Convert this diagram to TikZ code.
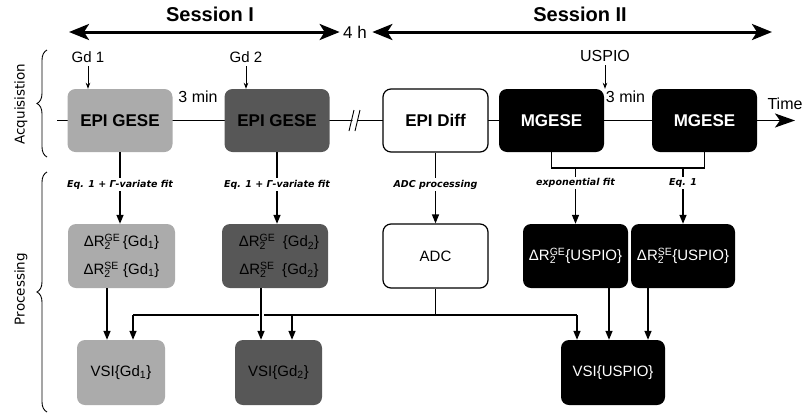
\documentclass[tikz,border=0pt]{standalone}
\usepackage{fontspec}
\setmainfont{Liberation Sans}
\newfontfamily\dejavu{DejaVu Sans}
\usetikzlibrary{arrows.meta,decorations.pathreplacing}
\definecolor{lightbox}{gray}{0.67}
\definecolor{darkbox}{gray}{0.34}
\newcommand{\dRtwo}[1]{ΔR\rlap{\textsubscript{2}}\textsuperscript{#1}}
\tikzset{
  stage/.style={rounded corners=8pt,minimum width=105pt,minimum height=63pt,
    inner sep=0pt,font=\bfseries\fontsize{17}{20}\selectfont},
  result/.style={rounded corners=8pt,minimum width=105pt,minimum height=64pt,
    inner sep=0pt,align=center,font=\fontsize{15}{28}\selectfont},
  note/.style={fill=white,inner sep=1.5pt,font=\dejavu\bfseries\itshape\fontsize{9.5}{11}\selectfont},
  side/.style={rotate=90,font=\dejavu\fontsize{13.5}{15}\selectfont},
  sess/.style={font=\bfseries\fontsize{20}{24}\selectfont},
  plain/.style={font=\fontsize{16}{18}\selectfont},
  proc/.style={line width=1.4pt},
  inj/.style={line width=0.8pt,-{Stealth[length=6pt,width=4.5pt]}},
  bigtip/.style={line width=3pt},
}
\begin{document}
\begin{tikzpicture}[x=1pt,y=-1pt,>={Triangle[length=9pt,width=7pt]}]
    \useasboundingbox (0,0) rectangle (805,413);
    % time axis
    \coordinate (t0) at (57,120.5);
    \coordinate (t1) at (795,120.5);
    \draw[line width=1.6pt,-{Stealth[length=20pt,width=14pt,inset=5pt]}] (t0) -- (t1);
    \node[plain] (time) at (785,104) {Time};
    % sessions
    \node[sess] (ses1) at (210,14) {Session I};
    \node[sess] (ses2) at (580,14) {Session II};
    \node[font=\fontsize{17}{19}\selectfont] (gap) at (355,32) {4 h};
    \coordinate (s1) at (69,32);
    \coordinate (s2) at (772,32);
    \draw[bigtip,{Stealth[length=20pt,width=16pt,inset=5pt]}-{Stealth[length=20pt,width=16pt,inset=5pt]}]
        (s1) -- (gap.west);
    \draw[bigtip,{Stealth[length=20pt,width=16pt,inset=5pt]}-{Stealth[length=20pt,width=16pt,inset=5pt]}]
        ([xshift=2pt]gap.east) -- (s2);
    % break in the time axis
    \fill[white] (350.5,127) -- (355.5,127) -- (359.5,114) -- (354.5,114) -- cycle;
    \draw[line width=0.9pt] (349,131) -- (354,110) (355,131) -- (360,110);
    % acquisition
    \node[stage,fill=lightbox] (gese1) at (120,120.5) {EPI GESE};
    \node[stage,fill=darkbox] (gese2) at (277,120.5) {EPI GESE};
    \node[stage,draw,line width=1.2pt,fill=white] (diff) at (435.5,120.5) {EPI Diff};
    \node[stage,fill=black,text=white] (mgese1) at (551.5,120.5) {MGESE};
    \node[stage,fill=black,text=white] (mgese2) at (704.5,120.5) {MGESE};
    \node[font=\fontsize{15}{17}\selectfont] (gd1) at (88,57) {Gd 1};
    \node[font=\fontsize{15}{17}\selectfont] (gd2) at (246,57) {Gd 2};
    \node[plain] (uspio) at (605,56) {USPIO};
    \draw[inj] (gd1) -- (gd1 |- gese1.north);
    \draw[inj] (gd2) -- (gd2 |- gese2.north);
    \draw[inj] (uspio) -- (uspio |- mgese1.north);
    \node[plain] (min1) at (198,97) {3 min};
    \node[plain] (min2) at (625.5,97) {3 min};
    % processing
    \node[result,fill=lightbox,minimum width=107pt] (dr1) at (121.5,256)
        {\dRtwo{GE}\,\{Gd\textsubscript{1}\}\\\dRtwo{SE} \{Gd\textsubscript{1}\}};
    \node[result,fill=darkbox,minimum width=106pt] (dr2) at (275,256)
        {\hspace{8pt}\dRtwo{GE}\enspace\{Gd\textsubscript{2}\}\\\hspace{8pt}\dRtwo{SE}\enspace\{Gd\textsubscript{2}\}};
    \node[result,draw,line width=1.2pt,fill=white] (adc) at (435.5,256) {ADC};
    \node[result,fill=black,text=white] (drge) at (575.5,256) {\dRtwo{GE}\{USPIO\}};
    \node[result,fill=black,text=white,minimum width=104pt] (drse) at (683,256) {\dRtwo{SE}\{USPIO\}};
    \node[result,fill=lightbox,minimum width=88pt,minimum height=65pt] (vsi1) at (121,372.5) {VSI\{Gd\textsubscript{1}\}};
    \node[result,fill=darkbox,minimum width=87pt,minimum height=65pt] (vsi2) at (278.5,372.5) {VSI\{Gd\textsubscript{2}\}};
    \node[result,fill=black,text=white,minimum width=104pt,minimum height=65pt] (vsiu) at (613,372.5) {VSI\{USPIO\}};
    \draw[proc,->] (gese1.south) -- node[note,pos=0.45]{Eq. 1 + Γ-variate fit} (gese1.south |- dr1.north);
    \draw[proc,->] (gese2.south) -- node[note,pos=0.45]{Eq. 1 + Γ-variate fit} (gese2.south |- dr2.north);
    \draw[proc,->] (diff.south) -- node[note,pos=0.45]{ADC processing} (adc.north);
    \coordinate (fork) at (0,168);
    \draw[proc] (mgese1.south) -- (mgese1.south |- fork) -| (mgese2.south);
    \draw[proc,->] (drge.north |- fork) -- node[note,pos=0.27]{exponential fit} (drge.north);
    \draw[proc,->] (drse.north |- fork) -- node[note,pos=0.27]{Eq. 1} (drse.north);
    % ADC feeds every VSI map
    \coordinate (bus) at (0,315);
    \draw[proc] (adc.south) -- (adc.south |- bus);
    \draw[proc] ([xshift=12pt]vsi1.north |- bus) -- ([xshift=-36pt]vsiu.north |- bus);
    \draw[proc,->] ([xshift=12pt]vsi1.north |- bus) -- ([xshift=12pt]vsi1.north);
    \draw[proc,->] ([xshift=13.5pt]vsi2.north |- bus) -- ([xshift=13.5pt]vsi2.north);
    \draw[proc,->] ([xshift=-36pt]vsiu.north |- bus) -- ([xshift=-36pt]vsiu.north);
    \draw[proc,->] ([xshift=-14.5pt]dr1.south) -- ([xshift=-14.5pt]dr1.south |- vsi1.north);
    \draw[proc,->,preaction={draw=white,line width=5pt,-}] ([xshift=-14pt]dr2.south) -- ([xshift=-14pt]dr2.south |- vsi2.north);
    \draw[proc,->] ([xshift=33.5pt]drge.south) -- ([xshift=33.5pt]drge.south |- vsiu.north);
    \draw[proc,->] ([xshift=-35pt]drse.south) -- ([xshift=-35pt]drse.south |- vsiu.north);
    % braces
    \draw[line width=0.9pt,decorate,decoration={brace,amplitude=10pt}] (47,157) -- (47,50);
    \draw[line width=0.9pt,decorate,decoration={brace,amplitude=10pt}] (47,412) -- (47,172);
    \node[side] (acq) at (21,104) {Acquisistion};
    \node[side] (prc) at (21,289) {Processing};
\end{tikzpicture}
\end{document}
